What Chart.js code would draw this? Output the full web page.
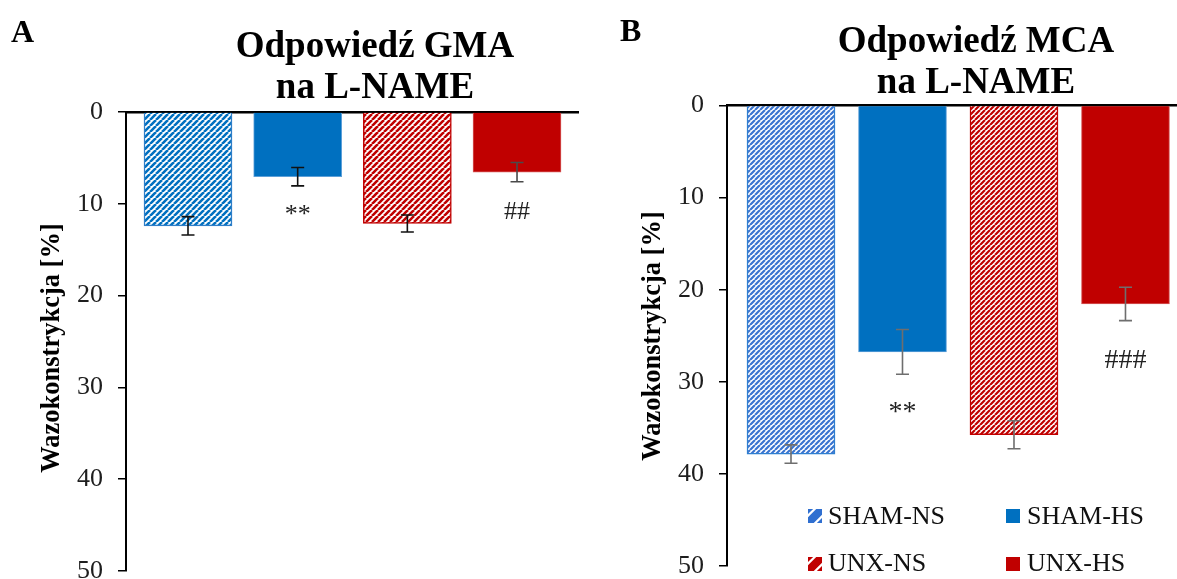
<!DOCTYPE html>
<html><head><meta charset="utf-8">
<script src="https://cdn.jsdelivr.net/npm/chart.js@4"></script>
<style>
html,body{margin:0;padding:0;width:1177px;height:579px;overflow:hidden;background:#fff;}
#ca{position:absolute;left:0;top:0;}
#cb{position:absolute;left:600px;top:0;}
</style></head><body>
<canvas id="ca" width="590" height="579"></canvas>
<canvas id="cb" width="600" height="579"></canvas>
<script>
// ---- data ----
const categories = ['SHAM-NS', 'SHAM-HS', 'UNX-NS', 'UNX-HS'];
const yTickValues = [0, 10, 20, 30, 40, 50];

const gmaTitle = ['Odpowiedź GMA', 'na L-NAME'];
const gmaValues = [12.4, 7.05, 12.15, 6.55];
const gmaErrors = [1.0, 1.0, 0.93, 1.05];
const gmaMarks = ['', '**', '', '##'];
const gmaMarkAt = [null, 10.7, null, 10.7];

const mcaTitle = ['Odpowiedź MCA', 'na L-NAME'];
const mcaValues = [37.85, 26.75, 35.75, 21.55];
const mcaErrors = [1.0, 2.43, 1.52, 1.81];
const mcaMarks = ['', '**', '', '###'];
const mcaMarkAt = [null, 32.8, null, 27.5];

const yAxisLabel = 'Wazokonstrykcja [%]';

const FONT = "'Liberation Serif', 'Times New Roman', serif";

function buildChart(canvasId, spec) {
  const canvas = document.getElementById(canvasId);
  const ctx = canvas.getContext('2d');
  function hatch(color, p, w) {
    const c = document.createElement('canvas'); c.width = p; c.height = p;
    const g = c.getContext('2d');
    g.fillStyle = '#fff'; g.fillRect(0, 0, p, p);
    g.strokeStyle = color; g.lineWidth = w;
    g.beginPath();
    for (let k = -1; k <= 1; k++) { g.moveTo(k * p, p); g.lineTo(k * p + p, 0); }
    g.stroke();
    return ctx.createPattern(c, 'repeat');
  }
  const fills = [hatch(spec.hatchBlue, spec.hp, spec.hw), '#0070C0', hatch('#C00000', spec.hp, spec.hw), '#C00000'];
  const borders = [spec.hatchBlueBorder, '#5c9fd8', '#C00000', '#d65a5a'];
  const bWidths = [1.5, 1, 1.5, 1];

  const decor = {
    id: 'decor',
    afterDatasetsDraw(chart) {
      const c = chart.ctx, ys = chart.scales.y;
      const meta = chart.getDatasetMeta(0);
      c.save();
      meta.data.forEach((bar, i) => {
        const v = spec.values[i], e = spec.errors[i];
        const y1 = ys.getPixelForValue(v - e), y2 = ys.getPixelForValue(v + e);
        c.strokeStyle = spec.errColors[i]; c.lineWidth = 1.6;
        c.beginPath();
        c.moveTo(bar.x, y1); c.lineTo(bar.x, y2);
        c.moveTo(bar.x - 6.5, y1); c.lineTo(bar.x + 6.5, y1);
        c.moveTo(bar.x - 6.5, y2); c.lineTo(bar.x + 6.5, y2);
        c.stroke();
        const t = spec.marks[i];
        if (t) {
          c.font = spec.markSize + 'px ' + FONT;
          c.fillStyle = '#222'; c.textAlign = 'center'; c.textBaseline = 'alphabetic';
          const m = c.measureText(t);
          const cy = ys.getPixelForValue(spec.markAt[i]);
          c.fillText(t, bar.x, cy + (m.actualBoundingBoxAscent - m.actualBoundingBoxDescent) / 2);
        }
      });
      c.restore();
    },
    afterDraw(chart) {
      const c = chart.ctx;
      c.save();
      c.fillStyle = '#000';
      // panel letter
      c.font = 'bold 32px ' + FONT; c.textAlign = 'left'; c.textBaseline = 'alphabetic';
      c.fillText(spec.letter, spec.letterX, spec.letterY);
      // title
      c.font = 'bold 37px ' + FONT; c.textAlign = 'center';
      spec.title.forEach((line, k) => c.fillText(line, spec.titleX, spec.titleY[k]));
      // y axis label
      c.save();
      c.translate(spec.ylabX, spec.ylabY); c.rotate(-Math.PI / 2);
      c.font = 'bold 26.5px ' + FONT; c.textAlign = 'center'; c.textBaseline = 'middle';
      c.fillText(yAxisLabel, 0, 0);
      c.restore();
      // legend
      if (spec.legend) {
        const L = spec.legend;
        categories.forEach((name, i) => {
          const col = i % 2, row = Math.floor(i / 2);
          const bx = L.boxX[col], by = L.boxY[row], s = L.box;
          c.fillStyle = (i === 0) ? '#2f6fd0' : (i === 2 ? '#C00000' : fills[i]);
          c.fillRect(bx, by, s, s);
          if (i === 0 || i === 2) {
            c.save();
            c.beginPath(); c.rect(bx, by, s, s); c.clip();
            c.strokeStyle = '#fff'; c.lineWidth = 2.2;
            c.beginPath();
            c.moveTo(bx - 2, by + s * 0.62); c.lineTo(bx + s * 0.62, by - 2);
            c.moveTo(bx + s * 0.38, by + s + 2); c.lineTo(bx + s + 2, by + s * 0.38);
            c.stroke();
            c.restore();
          }
          c.fillStyle = '#111';
          c.font = '26px ' + FONT; c.textAlign = 'left'; c.textBaseline = 'alphabetic';
          c.fillText(name, L.textX[col], L.textY[row]);
        });
      }
      c.restore();
    }
  };

  return new Chart(canvas, {
    type: 'bar',
    data: {
      labels: categories,
      datasets: [{
        label: spec.title.join(' '),
        data: categories.map((c, i) => ({ x: i, y: spec.values[i] })),
        backgroundColor: fills,
        borderColor: borders,
        borderWidth: bWidths,
        borderSkipped: 'start',
        barThickness: 88
      }]
    },
    options: {
      responsive: false,
      animation: false,
      events: [],
      layout: { padding: { left: 0, right: spec.padRight, top: spec.padTop, bottom: spec.padBottom } },
      plugins: { legend: { display: false }, tooltip: { enabled: false }, title: { display: false } },
      scales: {
        x: {
          type: 'linear', position: 'top', min: spec.xMin, max: spec.xMax, offset: false,
          ticks: { display: false }, grid: { display: false },
          border: { display: true, color: '#000', width: 2.5 },
          afterFit(s) { s.height = 0; s.paddingLeft = 0; s.paddingRight = 0; s.paddingTop = 0; s.paddingBottom = 0; }
        },
        y: {
          type: 'linear', reverse: true,
          min: yTickValues[0], max: yTickValues[yTickValues.length - 1],
          afterBuildTicks(s) { s.ticks = yTickValues.map(v => ({ value: v })); },
          ticks: { color: '#1e1e1e', padding: 15, font: { family: FONT, size: 26 } },
          grid: { drawOnChartArea: false, drawTicks: true, tickLength: 8, color: '#000', lineWidth: 1.5 },
          border: { display: true, color: '#000', width: 2 },
          afterFit(s) { s.width = spec.axisLeft; s.paddingTop = 0; s.paddingBottom = 0; s.paddingLeft = 0; s.paddingRight = 0; }
        }
      }
    },
    plugins: [decor]
  });
}

buildChart('ca', {
  values: gmaValues, errors: gmaErrors, marks: gmaMarks, markAt: gmaMarkAt, title: gmaTitle,
  errColors: ['#111', '#111', '#111', '#4a4a4a'], markSize: 26,
  hatchBlue: '#0070C0', hatchBlueBorder: '#2e7ec8', hp: 6, hw: 2.6,
  axisLeft: 126, padRight: 12, padTop: 112, padBottom: 8,
  xMin: -0.5653, xMax: 3.556,
  letter: 'A', letterX: 11, letterY: 42,
  titleX: 375, titleY: [57, 98],
  ylabX: 52, ylabY: 348,
  legend: null
});

buildChart('cb', {
  values: mcaValues, errors: mcaErrors, marks: mcaMarks, markAt: mcaMarkAt, title: mcaTitle,
  errColors: ['#6e6e6e', '#6e6e6e', '#6e6e6e', '#6e6e6e'], markSize: 28,
  hatchBlue: '#3a74d0', hatchBlueBorder: '#2f7fd0', hp: 5, hw: 2.2,
  axisLeft: 127, padRight: 20, padTop: 105.5, padBottom: 13,
  xMin: -0.574, xMax: 3.489,
  letter: 'B', letterX: 20, letterY: 41,
  titleX: 376, titleY: [52, 93],
  ylabX: 53, ylabY: 336,
  legend: { box: 14, boxX: [208, 406], boxY: [509, 557], textX: [228, 427], textY: [524, 571] }
});
</script>
</body></html>
